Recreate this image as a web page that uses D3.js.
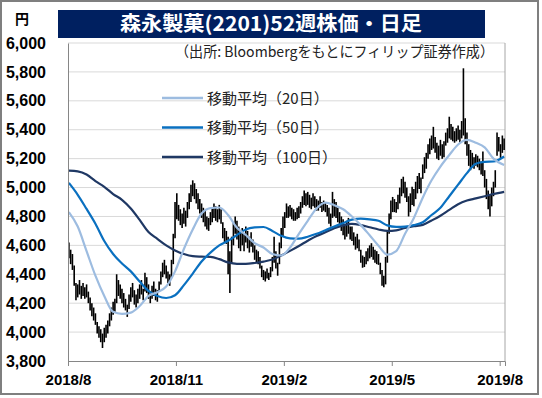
<!DOCTYPE html>
<html>
<head>
<meta charset="utf-8">
<script src="https://cdn.jsdelivr.net/npm/d3@7"></script>
<style>
  body { margin: 0; background: #fff; }
  svg text { font-family: "Noto Sans CJK JP", "Noto Sans", sans-serif; }
</style>
</head>
<body>
<div id="chart"></div>
<script>
// daily high / low (one per trading day, ~52 weeks)
const highs = [
  4620,4570,4540,4460,4340,4330,4360,4320,4340,4310,
  4330,4280,4240,4200,4170,4130,4070,4040,4020,3990,
  4030,4050,4080,4130,4170,4210,4230,4400,4360,4330,
  4300,4270,4230,4190,4260,4310,4340,4290,4260,4300,
  4330,4360,4300,4410,4380,4330,4280,4320,4350,4300,
  4290,4350,4420,4480,4500,4460,4420,4400,4500,4680,
  4900,4960,4880,4850,4820,4860,4840,4900,4960,5020,
  5050,5030,4990,4960,4920,4890,4860,4840,4800,4790,
  4830,4860,4890,4870,4850,4880,4850,4760,4720,4700,
  4660,4560,4660,4760,4800,4770,4730,4700,4720,4680,
  4730,4700,4660,4690,4640,4600,4570,4560,4520,4460,
  4430,4420,4440,4410,4450,4520,4660,4560,4480,4620,
  4720,4800,4830,4890,4870,4880,4860,4850,4830,4860,
  4870,4900,4940,4980,4960,4970,4950,4930,4960,4940,
  4920,4910,4940,4900,4910,4900,4880,4860,4820,4970,
  4920,4900,4860,4830,4800,4780,4740,4770,4790,4730,
  4730,4690,4660,4680,4640,4570,4530,4520,4560,4580,
  4600,4615,4590,4570,4560,4540,4480,4430,4390,4520,
  4700,4820,4910,4935,4920,4900,4950,5000,5060,5075,
  5040,5000,4940,4960,5005,4990,5040,5080,5100,5070,
  5160,5210,5240,5300,5340,5360,5420,5350,5310,5290,
  5330,5300,5320,5380,5410,5490,5440,5420,5390,5410,
  5430,5400,5460,5825,5480,5380,5300,5260,5240,5210,
  5230,5220,5200,5180,5250,5120,5060,4980,4950,5000,
  5040,5120,5380,5350,5300,5360,5340
];
const lows = [
  4510,4470,4430,4320,4220,4240,4260,4230,4250,4230,
  4240,4200,4150,4110,4080,4050,3990,3960,3930,3890,
  3930,3960,3990,4040,4080,4120,4140,4200,4250,4230,
  4200,4170,4150,4105,4160,4210,4240,4190,4170,4200,
  4230,4260,4220,4280,4270,4230,4200,4230,4250,4220,
  4210,4280,4330,4380,4400,4370,4340,4320,4380,4470,
  4650,4780,4770,4740,4720,4750,4730,4790,4850,4900,
  4940,4920,4890,4850,4820,4790,4760,4730,4710,4700,
  4740,4760,4790,4770,4760,4780,4750,4650,4620,4610,
  4400,4270,4480,4600,4680,4640,4580,4560,4600,4560,
  4620,4580,4550,4590,4550,4500,4480,4470,4440,4380,
  4360,4350,4370,4360,4380,4420,4480,4440,4390,4470,
  4580,4660,4720,4790,4790,4800,4780,4770,4770,4780,
  4790,4820,4860,4880,4870,4880,4860,4850,4870,4860,
  4840,4840,4860,4830,4840,4830,4800,4750,4730,4790,
  4800,4790,4760,4740,4700,4670,4640,4660,4680,4640,
  4630,4600,4570,4580,4560,4480,4445,4450,4470,4490,
  4510,4520,4500,4480,4470,4465,4400,4320,4310,4330,
  4480,4680,4780,4830,4830,4825,4850,4890,4940,4960,
  4930,4900,4800,4830,4880,4870,4920,4960,4990,4960,
  5060,5100,5130,5200,5230,5260,5270,5240,5200,5190,
  5220,5200,5210,5290,5310,5340,5330,5320,5310,5320,
  5330,5310,5340,5360,5300,5220,5150,5120,5140,5130,
  5150,5140,5120,5090,5080,5000,4920,4850,4800,4870,
  4940,5000,5220,5250,5200,5240,5260
];

// moving averages, read every 5 trading days
const maDays = [
  0,5,10,15,20,25,30,35,40,45,
  50,55,60,65,70,75,80,85,90,95,
  100,105,110,115,120,125,130,135,140,145,
  150,155,160,165,170,175,180,185,190,195,
  200,205,210,215,220,225,230,235,240,246
];
const ma20 = [
  4830,4730,4560,4390,4250,4140,4126,4135,4180,4250,
  4275,4315,4420,4575,4710,4820,4858,4862,4810,4722,
  4672,4615,4585,4540,4530,4585,4680,4770,4855,4895,
  4878,4850,4800,4740,4670,4598,4536,4560,4680,4790,
  4930,5050,5145,5225,5298,5330,5310,5278,5200,5156
];
const ma50 = [
  5032,4950,4852,4750,4630,4540,4475,4420,4350,4285,
  4250,4236,4255,4325,4405,4488,4550,4600,4632,4672,
  4710,4724,4727,4700,4666,4648,4646,4660,4680,4705,
  4730,4755,4778,4785,4780,4770,4738,4728,4730,4740,
  4760,4810,4860,4940,5020,5100,5165,5178,5180,5215
];
const ma100 = [
  5117,5112,5090,5045,5005,4955,4915,4855,4776,4692,
  4645,4600,4565,4540,4525,4522,4520,4505,4482,4472,
  4472,4478,4488,4502,4530,4562,4596,4632,4665,4690,
  4718,4738,4748,4740,4725,4710,4700,4704,4720,4732,
  4742,4772,4805,4845,4885,4910,4925,4940,4955,4970
];

const yTicks = [3800, 4000, 4200, 4400, 4600, 4800, 5000, 5200, 5400, 5600, 5800, 6000];
const xTickDays = [0, 61, 122, 183, 244];
const xTickLabels = ["2018/8", "2018/11", "2019/2", "2019/5", "2019/8"];
const seriesNames = ["移動平均（20日）", "移動平均（50日）", "移動平均（100日）"];
const seriesColours = ["#9DBCE0", "#0A70C0", "#1F3864"];

const titleText = "森永製菓(2201)52週株価・日足";
const sourceText = "（出所: Bloombergをもとにフィリップ証券作成）";

const svgWidth = 542, svgHeight = 398;
const plot = {left: 68, right: 505, top: 43, bottom: 361};

const svg = d3.select("#chart").append("svg")
    .attr("width", svgWidth)
    .attr("height", svgHeight);

// outer frame
svg.append("rect")
    .attr("x", 1).attr("y", 1)
    .attr("width", 537).attr("height", 393)
    .attr("fill", "#fff")
    .attr("stroke", "#7f7f7f")
    .attr("stroke-width", 2);

const nDays = highs.length;

const xscale = d3.scaleLinear()
    .domain([0, nDays])
    .range([plot.left, plot.right]);

const yscale = d3.scaleLinear()
    .domain([3800, 6000])
    .range([plot.bottom, plot.top]);

// grid
svg.append("g")
    .attr("class", "grid")
    .selectAll("line")
    .data(yTicks.slice(1))
    .join("line")
        .attr("x1", plot.left)
        .attr("x2", plot.right)
        .attr("y1", d => yscale(d))
        .attr("y2", d => yscale(d))
        .attr("stroke", "#d9d9d9")
        .attr("stroke-width", 1);

// right edge of the plot area
svg.append("line")
    .attr("x1", plot.right).attr("x2", plot.right)
    .attr("y1", plot.top).attr("y2", plot.bottom)
    .attr("stroke", "#a6a6a6");

// candles (high-low bars)
const days = highs.map((h, i) => ({i: i, h: h, l: lows[i]}));
svg.append("g")
    .attr("class", "candles")
    .selectAll("line")
    .data(days)
    .join("line")
        .attr("x1", d => xscale(d.i + 0.5))
        .attr("x2", d => xscale(d.i + 0.5))
        .attr("y1", d => yscale(d.h))
        .attr("y2", d => yscale(d.l))
        .attr("stroke", "#000")
        .attr("stroke-width", 1.6);

// moving averages
const line = d3.line()
    .x(d => xscale(d[0] + 0.5))
    .y(d => yscale(d[1]))
    .curve(d3.curveMonotoneX);

[ma100, ma50, ma20].forEach((vals, k) => {
    const colour = seriesColours[2 - k];
    svg.append("path")
        .datum(maDays.map((day, j) => [day, vals[j]]))
        .attr("fill", "none")
        .attr("stroke", colour)
        .attr("stroke-width", 2.2)
        .attr("stroke-linejoin", "round")
        .attr("d", line);
});

// axes
const xAxis = d3.axisBottom(xscale)
    .tickValues(xTickDays)
    .tickFormat((d, i) => xTickLabels[i])
    .tickSize(5)
    .tickPadding(8);

const gX = svg.append("g")
    .attr("transform", `translate(0,${plot.bottom})`)
    .call(xAxis);
gX.select(".domain").attr("stroke", "#868686");
gX.selectAll(".tick line").attr("stroke", "#868686");
gX.selectAll(".tick text")
    .attr("fill", "#000")
    .style("font-family", "'Liberation Sans', sans-serif")
    .style("font-weight", "bold")
    .style("font-size", "15px");

const yAxis = d3.axisLeft(yscale)
    .tickValues(yTicks)
    .tickFormat(d3.format(","))
    .tickSize(0)
    .tickPadding(22);

const gY = svg.append("g")
    .attr("transform", `translate(${plot.left},0)`)
    .call(yAxis);
gY.select(".domain").attr("stroke", "#868686");
gY.selectAll(".tick text")
    .attr("fill", "#000")
    .style("font-family", "'Liberation Sans', sans-serif")
    .style("font-weight", "bold")
    .style("font-size", "16px");

// unit
svg.append("text")
    .attr("x", 22).attr("y", 24)
    .attr("text-anchor", "middle")
    .style("font-size", "14px")
    .style("font-weight", "bold")
    .text("円");

// title bar
svg.append("rect")
    .attr("x", 58).attr("y", 10)
    .attr("width", 427).attr("height", 28)
    .attr("fill", "#002060");
svg.append("text")
    .attr("x", 120).attr("y", 31)
    .attr("fill", "#fff")
    .attr("textLength", 302)
    .attr("lengthAdjust", "spacingAndGlyphs")
    .style("font-size", "20px")
    .style("font-weight", "bold")
    .text(titleText);

// source note
svg.append("text")
    .attr("x", 175).attr("y", 57)
    .attr("fill", "#222")
    .attr("textLength", 319)
    .attr("lengthAdjust", "spacingAndGlyphs")
    .style("font-size", "14.5px")
    .text(sourceText);

// legend
const legend = svg.append("g")
    .selectAll("g")
    .data(seriesNames)
    .join("g")
        .attr("transform", (d, i) => `translate(162,${98 + i * 29.5})`);
legend.append("line")
    .attr("x1", 0).attr("x2", 41)
    .attr("stroke", (d, i) => seriesColours[i])
    .attr("stroke-width", 2.5);
legend.append("text")
    .attr("x", 45).attr("y", 5.5)
    .attr("fill", "#222")
    .style("font-size", "15px")
    .text(d => d);
</script>
</body>
</html>
